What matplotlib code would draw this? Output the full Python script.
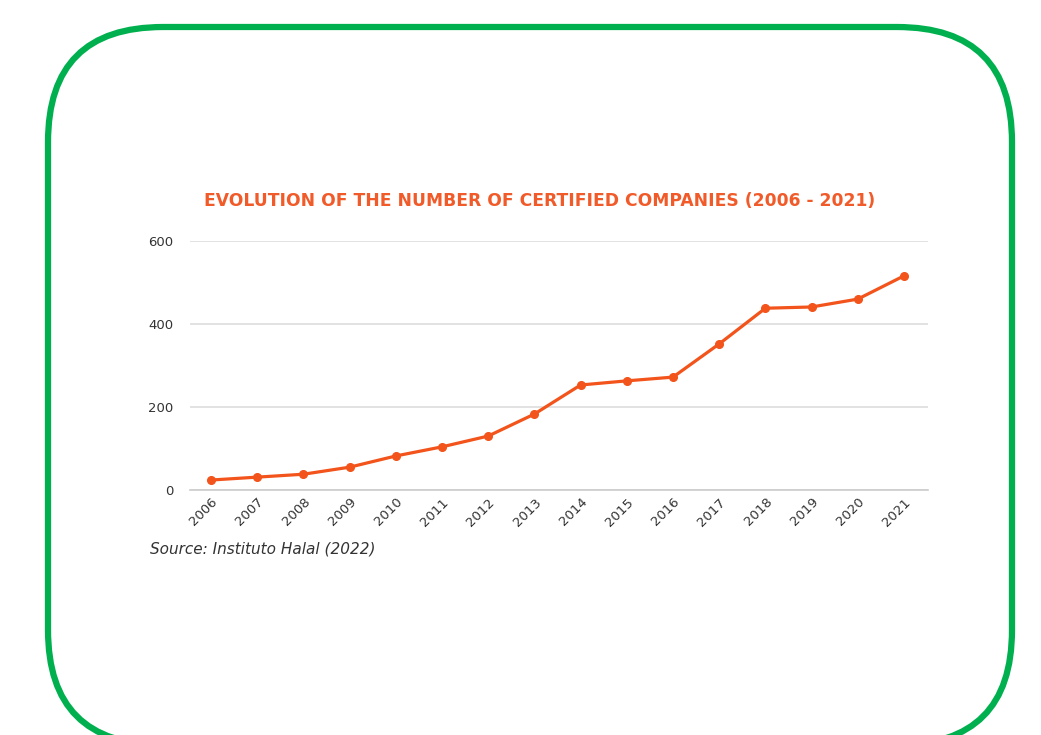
import matplotlib.pyplot as plt
from matplotlib.patches import FancyBboxPatch
from matplotlib.transforms import ScaledTranslation

years = list(range(2006, 2022))
companies = [24, 31, 38, 55, 82, 104, 130, 183, 253, 263, 272, 352, 438, 441, 460, 516]
y_ticks = [0, 200, 400, 600]

orange = '#F2541B'
title_color = '#F15A29'
text_gray = '#333333'

fig = plt.figure(figsize=(10.41, 7.35), dpi=100)

# green rounded frame, drawn in pixel coords (y from the bottom)
bg = fig.add_axes([0, 0, 1, 1])
bg.set_xlim(0, 1041)
bg.set_ylim(0, 735)
bg.axis('off')
frame = FancyBboxPatch((48, -10), 964, 718, boxstyle='round,pad=0,rounding_size=115',
                       fill=False, edgecolor='#00B04F', linewidth=4.5, clip_on=False)
bg.add_patch(frame)

ax = fig.add_axes([190 / 1041, 1 - 490 / 735, (928 - 190) / 1041, (490 - 241) / 735])
ax.plot(years, companies, color=orange, linewidth=2.3, marker='o', markersize=5.5, zorder=3)
ax.set_xlim(2005.545, 2021.52)
ax.set_ylim(0, 600)
ax.set_yticks(y_ticks)
ax.set_xticks(years)
ax.set_xticklabels([str(y) for y in years], rotation=45, ha='right', rotation_mode='anchor',
                   fontsize=9.5, color=text_gray)
ax.set_yticklabels([str(v) for v in y_ticks], fontsize=9.5, color=text_gray)
shift = ScaledTranslation(6 / 100, 0, fig.dpi_scale_trans)
for lbl in ax.get_xticklabels():
    lbl.set_transform(lbl.get_transform() + shift)
ax.tick_params(axis='both', length=0)
ax.tick_params(axis='y', pad=12)
ax.tick_params(axis='x', pad=4)
ax.grid(axis='y', color='#dddddd', linewidth=1.2)
ax.set_axisbelow(True)
for s in ['top', 'right', 'left']:
    ax.spines[s].set_visible(False)
ax.spines['bottom'].set_color('#cccccc')
ax.spines['bottom'].set_linewidth(1.2)

fig.text(540 / 1041, 1 - 201 / 735, 'EVOLUTION OF THE NUMBER OF CERTIFIED COMPANIES (2006 - 2021)',
         ha='center', va='center', fontsize=12.35, fontweight='bold', color=title_color)
fig.text(150 / 1041, 1 - 549 / 735, 'Source: Instituto Halal (2022)', ha='left', va='center',
         fontsize=11, style='italic', color=text_gray)

fig.savefig('out.png', dpi=100)
